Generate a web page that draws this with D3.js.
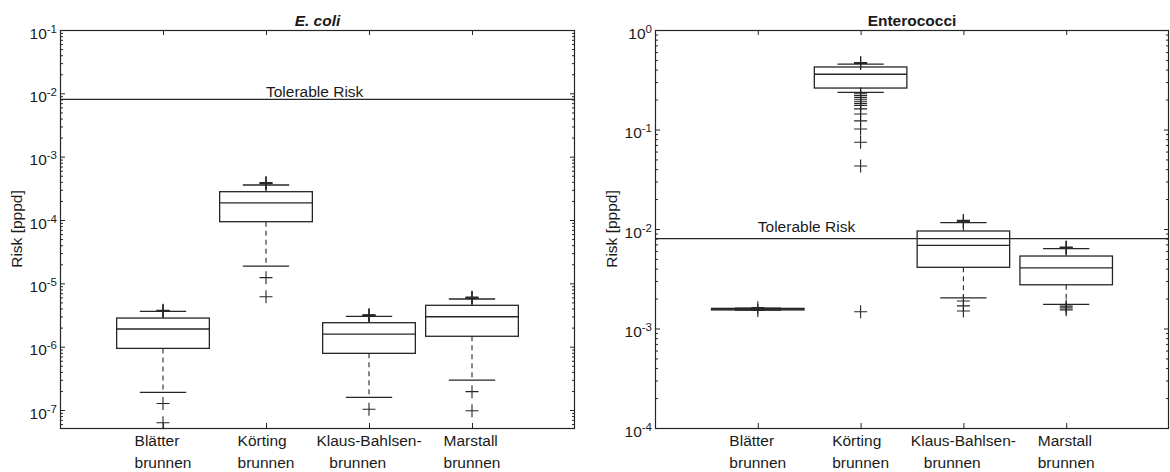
<!DOCTYPE html>
<html><head><meta charset="utf-8">
<script src="https://cdn.jsdelivr.net/npm/d3@7"></script>
<style>
body{margin:0;background:#fff}
svg{display:block}
text{font-family:"Liberation Sans",Arial,Helvetica,sans-serif;fill:#1a1a1a}
</style>
</head><body>
<svg id="c" width="1170" height="472"></svg>
<script>
// ---------- data ----------
const categoryLine1 = ["Blätter", "Körting", "Klaus-Bahlsen-", "Marstall"];
const categoryLine2 = ["brunnen", "brunnen", "   brunnen", "brunnen"];
const tolerableRisk = 0.008;
const tolerableLabel = "Tolerable Risk";
const yLabel = "Risk [pppd]";

// E. coli
const ecoliTitle = "E. coli";
const ecoliQ1 = [9.4e-7, 9.4e-5, 7.85e-7, 1.46e-6];
const ecoliMedian = [1.9e-6, 1.87e-4, 1.58e-6, 2.97e-6];
const ecoliQ3 = [2.83e-6, 2.8e-4, 2.39e-6, 4.5e-6];
const ecoliWhiskerLow = [1.9e-7, 1.87e-5, 1.58e-7, 2.97e-7];
const ecoliWhiskerHigh = [3.6e-6, 3.57e-4, 3.0e-6, 5.66e-6];
const ecoliOutliers = [
  [3.65e-6, 3.7e-6, 3.75e-6, 1.27e-7, 6.3e-8],
  [3.75e-4, 3.8e-4, 3.9e-4, 1.23e-5, 6.15e-6],
  [3.1e-6, 3.15e-6, 3.2e-6, 1.03e-7],
  [5.85e-6, 5.95e-6, 6.05e-6, 1.95e-7, 9.75e-8]
];
const ecoliTickExponents = [-7, -6, -5, -4, -3, -2, -1];
const ecoliYDomain = [5.2e-8, 1e-1];

// Enterococci
const enteroTitle = "Enterococci";
const enteroQ1 = [1.537e-3, 0.261, 4.12e-3, 2.75e-3];
const enteroMedian = [1.565e-3, 0.359, 6.86e-3, 4.06e-3];
const enteroQ3 = [1.593e-3, 0.425, 9.55e-3, 5.35e-3];
const enteroWhiskerLow = [1.53e-3, 0.236, 2.03e-3, 1.75e-3];
const enteroWhiskerHigh = [1.6e-3, 0.455, 0.01157, 6.34e-3];
const enteroOutliers = [
  [1.52e-3, 1.62e-3],
  [0.46, 0.465, 0.47,
   0.229, 0.219, 0.209, 0.199, 0.190, 0.182,
   0.174, 0.161, 0.143, 0.122, 0.101, 0.0744, 0.043, 1.475e-3],
  [0.0118, 0.0120, 0.0122, 1.89e-3, 1.69e-3, 1.5e-3],
  [6.45e-3, 6.5e-3, 6.6e-3, 1.68e-3, 1.61e-3, 1.54e-3]
];
const enteroTickExponents = [-4, -3, -2, -1, 0];
const enteroYDomain = [1e-4, 1];

// ---------- drawing ----------
const svg = d3.select("#c");
svg.append("rect").attr("width", 1170).attr("height", 472).attr("fill", "#fff");
const INK = "#262626";

function drawPanel(cfg) {
  const {left, right, top, bottom} = cfg;
  const g = svg.append("g");
  const x = d3.scaleLinear().domain([0, categoryLine1.length + 1]).range([left, right]);
  const y = d3.scaleLog().domain(cfg.yDomain).range([bottom, top]);
  const cats = d3.range(1, categoryLine1.length + 1);

  const majors = cfg.tickExponents.map(e => Math.pow(10, e));
  const minors = [];
  const d0 = Math.floor(Math.log10(cfg.yDomain[0])), d1 = Math.ceil(Math.log10(cfg.yDomain[1]));
  for (let d = d0; d < d1; d++) for (let m = 2; m <= 9; m++) {
    const v = m * Math.pow(10, d);
    if (v >= cfg.yDomain[0] && v <= cfg.yDomain[1]) minors.push(v);
  }

  function styleAxis(sel) {
    sel.select(".domain").remove();
    sel.selectAll("line").attr("stroke", INK).attr("stroke-width", 1);
    sel.selectAll("text").remove();
  }
  // y ticks, inward, both sides
  g.append("g").attr("transform", `translate(${left},0)`)
    .call(d3.axisLeft(y).tickValues(majors).tickSize(-5).tickSizeOuter(0)).call(styleAxis);
  g.append("g").attr("transform", `translate(${left},0)`)
    .call(d3.axisLeft(y).tickValues(minors).tickSize(-3).tickSizeOuter(0)).call(styleAxis);
  g.append("g").attr("transform", `translate(${right},0)`)
    .call(d3.axisRight(y).tickValues(majors).tickSize(-5).tickSizeOuter(0)).call(styleAxis);
  g.append("g").attr("transform", `translate(${right},0)`)
    .call(d3.axisRight(y).tickValues(minors).tickSize(-3).tickSizeOuter(0)).call(styleAxis);
  // x ticks, inward, top and bottom
  g.append("g").attr("transform", `translate(0,${bottom})`)
    .call(d3.axisBottom(x).tickValues(cats).tickSize(-5).tickSizeOuter(0)).call(styleAxis);
  g.append("g").attr("transform", `translate(0,${top})`)
    .call(d3.axisTop(x).tickValues(cats).tickSize(-5).tickSizeOuter(0)).call(styleAxis);

  // frame
  g.append("rect").attr("x", left + 0.5).attr("y", top + 0.5)
    .attr("width", right - left - 1).attr("height", bottom - top)
    .attr("fill", "none").attr("stroke", INK).attr("stroke-width", 1.2);

  // y tick labels 10^k
  majors.forEach((v, i) => {
    const t = g.append("text").attr("x", left - 3).attr("y", y(v) + 8.5)
      .attr("text-anchor", "end").attr("font-size", 15.5);
    t.append("tspan").text("10");
    t.append("tspan").attr("font-size", 11.5).attr("dy", -6).text(String(cfg.tickExponents[i]));
  });

  // category labels (left-aligned block centered on tick)
  cats.forEach((c, i) => {
    const t1 = g.append("text").attr("font-size", 15.5).attr("y", 446)
      .style("white-space", "pre").attr("xml:space", "preserve").text(categoryLine1[i]);
    const t2 = g.append("text").attr("font-size", 15.5).attr("y", 468)
      .style("white-space", "pre").attr("xml:space", "preserve").text(categoryLine2[i]);
    const w = Math.max(t1.node().getComputedTextLength(), t2.node().getComputedTextLength());
    const x0 = x(c) - w / 2;
    t1.attr("x", x0); t2.attr("x", x0);
  });

  // title
  g.append("text").attr("x", (left + right) / 2).attr("y", 26).attr("text-anchor", "middle")
    .attr("font-size", 15.5).attr("font-weight", "bold")
    .attr("font-style", cfg.italic ? "italic" : "normal").text(cfg.title);

  // y label
  g.append("text").attr("transform", `translate(${cfg.yLabelX},${(top + bottom) / 2}) rotate(-90)`)
    .attr("text-anchor", "middle").attr("font-size", 15.5).text(yLabel);

  // tolerable risk
  g.append("line").attr("x1", left).attr("x2", right)
    .attr("y1", y(tolerableRisk)).attr("y2", y(tolerableRisk))
    .attr("stroke", INK).attr("stroke-width", 1.3);
  g.append("text").attr("x", x(cfg.tolerableAt)).attr("y", y(tolerableRisk) - cfg.tolerableOffset)
    .attr("font-size", 15.5).text(tolerableLabel);

  // boxes
  const halfBox = x(0.45) - x(0), halfCap = x(0.225) - x(0);
  cats.forEach((c, i) => {
    const cx = x(c);
    const bx = g.append("g");
    // whiskers
    bx.append("line").attr("x1", cx).attr("x2", cx).attr("y1", y(cfg.q3[i])).attr("y2", y(cfg.whiskerHigh[i]))
      .attr("stroke", INK).attr("stroke-width", 1.1).attr("stroke-dasharray", "5,4");
    bx.append("line").attr("x1", cx).attr("x2", cx).attr("y1", y(cfg.q1[i])).attr("y2", y(cfg.whiskerLow[i]))
      .attr("stroke", INK).attr("stroke-width", 1.1).attr("stroke-dasharray", "5,4");
    // caps
    [cfg.whiskerHigh[i], cfg.whiskerLow[i]].forEach(v => {
      bx.append("line").attr("x1", cx - halfCap).attr("x2", cx + halfCap).attr("y1", y(v)).attr("y2", y(v))
        .attr("stroke", INK).attr("stroke-width", 1.3);
    });
    // box
    bx.append("rect").attr("x", cx - halfBox).attr("width", 2 * halfBox)
      .attr("y", y(cfg.q3[i])).attr("height", Math.max(0.1, y(cfg.q1[i]) - y(cfg.q3[i])))
      .attr("fill", "none").attr("stroke", INK).attr("stroke-width", 1.3);
    // median
    bx.append("line").attr("x1", cx - halfBox).attr("x2", cx + halfBox)
      .attr("y1", y(cfg.median[i])).attr("y2", y(cfg.median[i]))
      .attr("stroke", INK).attr("stroke-width", 1.3);
    // outliers
    cfg.outliers[i].forEach(v => {
      const yy = y(v), s = 6.5;
      bx.append("path").attr("d", `M${cx - s},${yy}H${cx + s}M${cx},${yy - s}V${yy + s}`)
        .attr("stroke", INK).attr("stroke-width", 1.1).attr("fill", "none");
    });
  });
}

drawPanel({
  left: 60, right: 575, top: 30, bottom: 428,
  yDomain: ecoliYDomain, tickExponents: ecoliTickExponents,
  title: ecoliTitle, italic: true, yLabelX: 22,
  tolerableAt: 2, tolerableOffset: 2.5,
  q1: ecoliQ1, median: ecoliMedian, q3: ecoliQ3,
  whiskerLow: ecoliWhiskerLow, whiskerHigh: ecoliWhiskerHigh, outliers: ecoliOutliers
});
drawPanel({
  left: 655, right: 1169, top: 30, bottom: 428,
  yDomain: enteroYDomain, tickExponents: enteroTickExponents,
  title: enteroTitle, italic: false, yLabelX: 617,
  tolerableAt: 1, tolerableOffset: 6.5,
  q1: enteroQ1, median: enteroMedian, q3: enteroQ3,
  whiskerLow: enteroWhiskerLow, whiskerHigh: enteroWhiskerHigh, outliers: enteroOutliers
});
</script>
</body></html>
